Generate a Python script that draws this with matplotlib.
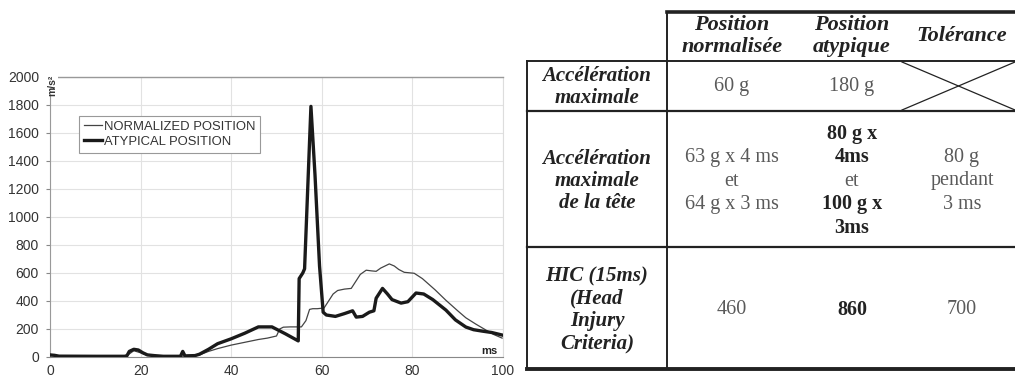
import matplotlib
matplotlib.use("Agg")
import matplotlib.pyplot as plt

# ---------------- data ----------------
t_norm = [0, 2, 5, 15, 17, 18.5, 20, 21.5, 25, 29, 30, 32, 33, 35, 37, 40, 43, 46, 48, 50,
          50.7, 51.5, 53, 55.5, 56.5, 57.3, 58, 59, 60.5, 61.5, 62.5, 63.5, 65, 66.5, 67.5,
          68.5, 69.8, 71, 72, 73, 74.9, 76, 77, 78.2, 80.4, 82.2, 85, 87.4, 90, 91.8, 94,
          96.2, 98, 99.8]
v_norm = [10, 8, 5, 5, 10, 45, 30, 12, 5, 5, 8, 10, 15, 40, 60, 85, 105, 125, 135, 150,
          200, 213, 215, 215, 260, 340, 345, 345, 350, 400, 450, 475, 485, 490, 540,
          590, 620, 615, 612, 635, 665, 650, 625, 605, 598, 560, 480, 405, 330, 280, 235,
          193, 160, 135]

t_atyp = [0, 1, 2, 10, 16.5, 17, 17.5, 18.5, 19.5, 20.5, 21.5, 23, 25, 28.8, 29.3, 29.8,
          32, 33, 35, 37, 40, 43, 46, 49, 52, 54.8, 55.0, 55.8, 56.2, 57.6, 58.5, 59.5,
          60.3, 61, 63, 65, 66.8, 67.6, 69, 70.5, 71.5, 72, 73.4, 74.5, 75.5, 77.5, 79,
          80.8, 82.5, 84.5, 87.4, 89.5, 91.8, 93.5, 95.4, 97.5, 99.8]
v_atyp = [15, 12, 6, 5, 5, 10, 40, 55, 50, 30, 15, 10, 5, 5, 40, 8,
          10, 20, 55, 95, 130, 170, 215, 215, 165, 115, 560, 600, 630, 1790, 1300, 650,
          320, 300, 290, 310, 330, 285, 290, 320, 330, 420, 490, 450, 410, 385, 395,
          457, 450, 410, 335, 265, 214, 195, 185, 175, 157]

series_labels = ["NORMALIZED POSITION", "ATYPICAL POSITION"]
x_ticks = [0, 20, 40, 60, 80, 100]
y_ticks = [0, 200, 400, 600, 800, 1000, 1200, 1400, 1600, 1800, 2000]
y_unit = "m/s²"
x_unit = "ms"

col_headers = [["Position", "normalisée"], ["Position", "atypique"], ["Tolérance"]]
row_labels = [["Accélération", "maximale"],
              ["Accélération", "maximale", "de la tête"],
              ["HIC (15ms)", "(Head", "Injury", "Criteria)"]]
cell_normal = [["60 g"], ["63 g x 4 ms", "et", "64 g x 3 ms"], ["460"]]
cell_atypical = [["180 g"], ["80 g x", "4ms", "et", "100 g x", "3ms"], ["860"]]
cell_tolerance = [None, ["80 g", "pendant", "3 ms"], ["700"]]

# ---------------- figure ----------------
W, H = 1015, 381
fig = plt.figure(figsize=(W / 100, H / 100), dpi=100)
fig.patch.set_facecolor("white")

def fx(px):
    return px / W

def fy(py):
    return 1 - py / H

x0, x1, ytop, ybot = 50, 503, 77, 357
ax = fig.add_axes([fx(x0), fy(ybot), (x1 - x0) / W, (ybot - ytop) / H])
sans = "Liberation Sans"

ax.plot(t_norm, v_norm, color="#444444", lw=0.9, label=series_labels[0], zorder=3)
ax.plot(t_atyp, v_atyp, color="#1a1a1a", lw=2.4, label=series_labels[1], zorder=4,
        solid_joinstyle="round")
ax.set_xlim(0, 100)
ax.set_ylim(0, 2000)
ax.set_xticks(x_ticks)
ax.set_yticks(y_ticks)
ax.set_xticklabels([str(v) for v in x_ticks], fontfamily=sans, fontsize=10, color="#333333")
ax.set_yticklabels([str(v) for v in y_ticks], fontfamily=sans, fontsize=10, color="#333333")
ax.tick_params(axis="x", length=0, pad=5)
ax.tick_params(axis="y", length=3, width=0.8, pad=5, color="#888888")
ax.grid(True, color="#e2e2e2", lw=0.8)
ax.set_axisbelow(True)
ax.spines["top"].set_color("#999999")
ax.spines["top"].set_linewidth(1.0)
ax.spines["right"].set_color("#dddddd")
ax.spines["left"].set_color("#999999")
ax.spines["bottom"].set_color("#888888")

leg = ax.legend(loc="upper left", bbox_to_anchor=(0.064, 0.861), borderaxespad=0,
                frameon=True, fancybox=False, edgecolor="#999999", framealpha=1,
                prop={"family": sans, "size": 9.4}, handlelength=1.4,
                handletextpad=0.15, borderpad=0.35, labelspacing=0.25)
leg.get_frame().set_linewidth(0.8)
for t in leg.get_texts():
    t.set_color("#333333")

# overlay for units and table (pixel coordinates)
ov = fig.add_axes([0, 0, 1, 1])
ov.set_xlim(0, W)
ov.set_ylim(H, 0)
ov.axis("off")
ov.patch.set_alpha(0)

ov.text(52, 85, y_unit, rotation=90, ha="center", va="center", fontfamily=sans,
        fontsize=7.5, fontweight="bold", color="#333333",
        bbox=dict(facecolor="white", edgecolor="none", pad=0.5))
ov.text(498, 351, x_unit, ha="right", va="center", fontfamily=sans, fontsize=8,
        fontweight="bold", color="#222222",
        bbox=dict(facecolor="white", edgecolor="none", pad=0.3))

# ---------------- table ----------------
serif = "Liberation Serif"
lc = "#222222"
xL, xC, xR = 527, 667, 1015
yT, yH, y1, y2, yB = 12, 61, 111, 247, 369
ov.plot([xC, xR], [yT, yT], color=lc, lw=2.6)
ov.plot([xL, xR], [yH, yH], color=lc, lw=1.4)
ov.plot([xL, xR], [y1, y1], color=lc, lw=1.6)
ov.plot([xL, xR], [y2, y2], color=lc, lw=1.6)
ov.plot([xL, xR], [yB, yB], color=lc, lw=2.8)
ov.plot([xC, xC], [yT, yB], color=lc, lw=1.4)
ov.plot([xL, xL], [yH, yB], color=lc, lw=1.4)
# cross in empty tolerance cell
ov.plot([902, xR], [yH + 1, y1 - 1], color=lc, lw=0.9)
ov.plot([902, xR], [y1 - 1, yH + 1], color=lc, lw=0.9)

col_x = [732, 852, 962]
lab_x = 597
row_c = [87, 181, 310]
head_c = 36
LS = 23.5

def lines(x, yc, items, bold_flags=None, italic=False, size=14.5, color="#5a5a5a",
          bold_color="#222222", ls=LS):
    n = len(items)
    for i, s in enumerate(items):
        y = yc + (i - (n - 1) / 2) * ls
        b = bold_flags[i] if bold_flags is not None else False
        ov.text(x, y, s, ha="center", va="center", fontfamily=serif,
                fontsize=size, fontstyle="italic" if italic else "normal",
                fontweight="bold" if b else "normal",
                color=bold_color if b else color)

for j, hdr in enumerate(col_headers):
    lines(col_x[j], head_c, hdr, [True] * len(hdr), italic=True, size=16, ls=22)

for r, lab in enumerate(row_labels):
    lines(lab_x, row_c[r], lab, [True] * len(lab), italic=True, size=15, ls=22.5)
    lines(col_x[0], row_c[r], cell_normal[r])
    atyp = cell_atypical[r]
    flags = [r > 0 and s != "et" for s in atyp]
    lines(col_x[1], row_c[r], atyp, flags)
    if cell_tolerance[r] is not None:
        lines(col_x[2], row_c[r], cell_tolerance[r])

fig.savefig("out.png", dpi=100, facecolor="white")
